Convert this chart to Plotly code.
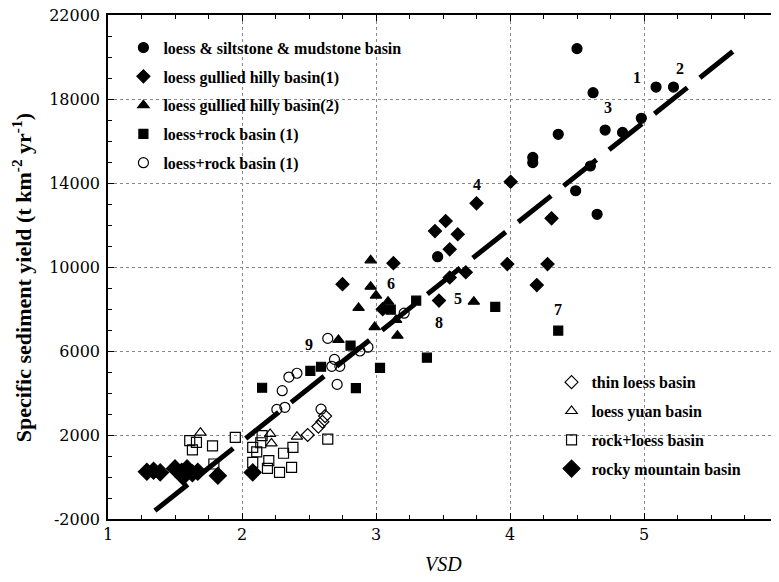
import plotly.graph_objects as go

# ---- data ----
silt_x = [4.50, 4.62, 5.09, 5.22, 4.71, 4.98, 4.84, 4.36, 4.17, 4.17, 4.60, 4.49, 4.65, 3.46]
silt_y = [20400, 18300, 18570, 18570, 16520, 17080, 16410, 16320, 15220, 14970, 14810, 13630, 12510, 10490]

gully1_x = [2.75, 3.05, 3.13, 3.44, 3.47, 3.52, 3.55, 3.55, 3.61, 3.67, 3.75, 3.98, 4.005, 4.20, 4.28, 4.31]
gully1_y = [9180, 7990, 10180, 11710, 8400, 12190, 10840, 9500, 11560, 9750, 13030, 10140, 14060, 9140, 10140, 12320]

gully2_x = [2.96, 2.96, 3.00, 2.87, 3.09, 2.99, 3.16, 2.72, 3.15, 3.73]
gully2_y = [10320, 9060, 8640, 8050, 8350, 7140, 6730, 6530, 7480, 8350]

lr1_x = [2.15, 2.51, 2.59, 2.81, 2.85, 3.03, 3.11, 3.30, 3.38, 3.89, 4.36]
lr1_y = [4250, 5050, 5250, 6260, 4230, 5200, 7970, 8400, 5680, 8100, 6970]

lr2_x = [2.26, 2.32, 2.30, 2.35, 2.41, 2.59, 2.64, 2.67, 2.69, 2.71, 2.73, 2.88, 2.94, 3.21]
lr2_y = [3220, 3320, 4110, 4760, 4940, 3230, 6600, 5270, 5600, 4410, 5270, 6000, 6180, 7800]

thin_x = [2.49, 2.57, 2.60, 2.62]
thin_y = [2000, 2400, 2630, 2900]

yuan_x = [1.69, 2.21, 2.22, 2.41]
yuan_y = [2110, 2050, 1600, 1920]

rl_x = [1.61, 1.66, 1.63, 1.78, 1.95, 1.79, 2.15, 2.14, 2.08, 2.11, 2.08, 2.20, 2.19, 2.28, 2.37, 2.31, 2.38, 2.64]
rl_y = [1730, 1650, 1290, 1480, 1890, 620, 1970, 1630, 1410, 1200, 700, 780, 410, 220, 460, 1130, 1410, 1800]

rocky_x = [1.29, 1.34, 1.39, 1.50, 1.55, 1.59, 1.56, 1.63, 1.67, 1.82, 2.08]
rocky_y = [250, 300, 220, 410, 250, 410, 20, 180, 250, 60, 220]

fit_x = [1.35, 5.70]
fit_y = [-1600, 20450]

label_text = ["1", "2", "3", "4", "5", "6", "7", "8", "9"]
label_x = [4.95, 5.27, 4.73, 3.75, 3.61, 3.11, 4.36, 3.47, 2.50]
label_y = [19010, 19460, 17600, 13940, 8510, 9220, 8000, 7350, 6290]

x_ticks = [1, 2, 3, 4, 5, 6]
y_ticks = [-2000, 2000, 6000, 10000, 14000, 18000, 22000]

SERIF = "Liberation Serif, Times New Roman, serif"
TICKF = "DejaVu Serif, serif"

fig = go.Figure()

def add(x, y, name, symbol, size, legend, group):
    fig.add_trace(go.Scatter(
        x=x, y=y, mode="markers", name=name, legend=legend, legendgroup=group,
        marker=dict(symbol=symbol, size=size, color="black",
                    line=dict(color="black", width=1.2)),
    ))

add(silt_x, silt_y, "loess &amp; siltstone &amp; mudstone basin", "circle", 10, "legend", "a")
add(gully1_x, gully1_y, "loess gullied hilly basin(1)", "diamond", 10, "legend", "b")
add(gully2_x, gully2_y, "loess gullied hilly basin(2)", "triangle-up", 10, "legend", "c")
add(lr1_x, lr1_y, "loess+rock basin (1)", "square", 9, "legend", "d")
add(lr2_x, lr2_y, "loess+rock basin (1)", "circle-open", 10, "legend", "e")
add(thin_x, thin_y, "thin loess basin", "diamond-open", 10, "legend2", "f")
add(yuan_x, yuan_y, "loess yuan basin", "triangle-up-open", 10, "legend2", "g")
add(rl_x, rl_y, "rock+loess basin", "square-open", 10, "legend2", "h")
add(rocky_x, rocky_y, "rocky mountain basin", "diamond", 13, "legend2", "i")

fig.add_trace(go.Scatter(
    x=fit_x, y=fit_y, mode="lines", showlegend=False,
    line=dict(color="black", width=5, dash="42px,16px"),
))

for t, x, y in zip(label_text, label_x, label_y):
    fig.add_annotation(x=x, y=y, text="<b>" + t + "</b>", showarrow=False,
                       font=dict(family=SERIF, size=16, color="black"))

# axis titles
fig.add_annotation(xref="paper", yref="paper", x=0.5, y=-0.115, yanchor="bottom",
                   text="<i>VSD</i>", showarrow=False,
                   font=dict(family=SERIF, size=20, color="black"))
fig.add_annotation(xref="paper", yref="paper", x=-0.128, y=0.478, xanchor="center",
                   yanchor="middle", textangle=-90, showarrow=False,
                   text="<b>Specific sediment yield (t km<sup>-2</sup> yr<sup>-1</sup>)</b>",
                   font=dict(family=SERIF, size=22, color="black"))

# white boxes behind the legends (hide gridlines)
fig.add_shape(type="rect", xref="paper", yref="paper", x0=0, x1=0.465, y0=0.657, y1=1,
              fillcolor="white", line_width=0, layer="between")
fig.add_shape(type="rect", xref="paper", yref="paper", x0=0.65, x1=0.96, y0=0.08, y1=0.31,
              fillcolor="white", line_width=0, layer="between")

axis_common = dict(
    showline=True, linecolor="black", linewidth=1.5, mirror="ticks",
    ticks="inside", ticklen=6, tickcolor="black",
    showgrid=True, gridcolor="#888888", griddash="dot", gridwidth=1,
    zeroline=False, automargin=False, ticklabeloverflow="allow",
    tickfont=dict(family=TICKF, size=16, color="black"),
)

fig.update_xaxes(
    range=[1, 6], tickvals=x_ticks, ticktext=[str(v) for v in x_ticks],
    minor=dict(dtick=0.25, tick0=1, ticks="inside", ticklen=4, tickcolor="black", showgrid=False),
    **axis_common,
)
fig.update_yaxes(
    range=[-2000, 22000], tickvals=y_ticks, ticktext=[str(v) for v in y_ticks],
    minor=dict(dtick=1000, tick0=0, ticks="inside", ticklen=4, tickcolor="black", showgrid=False),
    ticklabelstandoff=3,
    **axis_common,
)

legend_font = dict(family=SERIF, size=16, color="black", weight="bold")
fig.update_layout(
    width=771, height=566,
    margin=dict(l=99.5, r=1, t=7, b=55, autoexpand=False),
    paper_bgcolor="white", plot_bgcolor="white",
    legend=dict(x=0.023, y=0.969, xanchor="left", yanchor="top", bgcolor="rgba(0,0,0,0)",
                font=legend_font, tracegroupgap=5, itemclick=False),
    legend2=dict(x=0.662, y=0.305, xanchor="left", yanchor="top", bgcolor="rgba(0,0,0,0)",
                 font=legend_font, tracegroupgap=5, itemclick=False),
    showlegend=True,
)

fig.write_html("out.html")
